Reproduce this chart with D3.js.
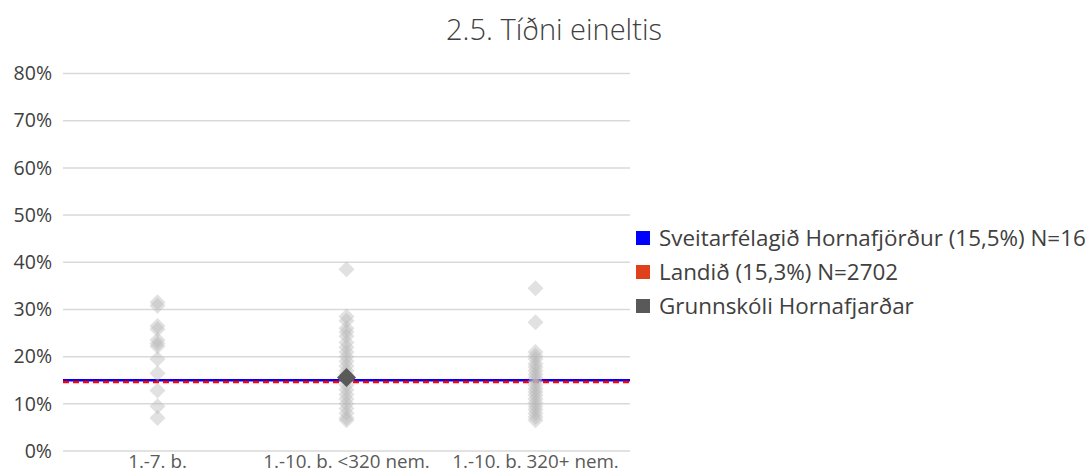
<!DOCTYPE html>
<html><head><meta charset="utf-8">
<script src="https://cdn.jsdelivr.net/npm/d3@7"></script>
<style>body{margin:0;background:#fff;font-family:"Open Sans",sans-serif;}</style>
</head><body><svg id="c" width="1089" height="475"></svg>
<script>
const categories = ["1.-7. b.", "1.-10. b. <320 nem.", "1.-10. b. 320+ nem."];
const yTicks = [0, 10, 20, 30, 40, 50, 60, 70, 80];
const schoolsCat1 = [31.5, 30.8, 26.5, 25.8, 23.5, 22.8, 22.2, 19.5, 16.5, 12.8, 9.5, 7.0];
const schoolsCat2 = [38.5, 28.5, 27.6, 26.0, 25.2, 24.3, 23.0, 22.0, 21.0, 20.0, 19.0, 18.0, 17.0, 16.2, 15.0, 14.0, 13.0, 12.0, 11.0, 10.0, 9.0, 8.0, 7.0, 6.5];
const schoolsCat3 = [34.5, 27.3, 21.0, 20.2, 19.5, 18.5, 17.8, 17.0, 16.2, 15.5, 14.8, 14.0, 13.2, 12.5, 11.8, 11.0, 10.2, 9.5, 8.8, 8.0, 7.2, 6.5];
const highlightCategory = "1.-10. b. <320 nem.";
const highlightValue = 15.6;
const municipalityValue = 15.0;
const nationalValue = 14.6;
const legendLabels = ["Sveitarfélagið Hornafjörður (15,5%) N=16", "Landið (15,3%) N=2702", "Grunnskóli Hornafjarðar"];
const legendColors = ["#0000ff", "#e0401a", "#595959"];
const title = "2.5. Tíðni eineltis";

const FONT = "'Open Sans',sans-serif";
const svg = d3.select("#c");
const mLeft = 63, mRight = 630, mTop = 73.5, mBottom = 451;
const x = d3.scaleBand().domain(categories).range([mLeft, mRight]);
const y = d3.scaleLinear().domain([0, 80]).range([mBottom, mTop]);

svg.append("text").attr("x", 554).attr("y", 40).attr("text-anchor", "middle")
  .attr("font-family", FONT).attr("font-size", 29).attr("font-weight", 300).attr("fill", "#404040").text(title);

// grid
svg.append("g").selectAll("line").data(yTicks).join("line")
  .attr("x1", mLeft).attr("x2", mRight).attr("y1", d => y(d)).attr("y2", d => y(d))
  .attr("stroke", "#d9d9d9").attr("stroke-width", 1.5);

// y axis
const ya = svg.append("g").attr("transform", `translate(${mLeft},0)`)
  .call(d3.axisLeft(y).tickValues(yTicks).tickFormat(d => d + "%").tickSize(0).tickPadding(11));
ya.select(".domain").remove();
ya.selectAll("text").attr("font-size", 19.5).attr("font-weight", 400).attr("fill", "#404040").attr("font-family", FONT);

// x axis
const xa = svg.append("g").attr("transform", `translate(0,${mBottom})`)
  .call(d3.axisBottom(x).tickSize(0).tickPadding(4));
xa.select(".domain").remove();
xa.selectAll("text").attr("font-size", 18.8).attr("font-weight", 400).attr("fill", "#595959").attr("font-family", FONT);

// reference lines
svg.append("line").attr("x1", mLeft).attr("x2", mRight).attr("y1", y(municipalityValue)).attr("y2", y(municipalityValue))
  .attr("stroke", "#0000ff").attr("stroke-width", 2.5);
svg.append("line").attr("x1", mLeft).attr("x2", mRight).attr("y1", y(nationalValue)).attr("y2", y(nationalValue))
  .attr("stroke", "#ff0000").attr("stroke-width", 2.5).attr("stroke-dasharray", "6,4");

// points
const pts = [];
[schoolsCat1, schoolsCat2, schoolsCat3].forEach((arr, i) => arr.forEach(v => pts.push({c: categories[i], v})));
const diamond = r => `M0,${-r}L${r},0L0,${r}L${-r},0Z`;
svg.append("g").selectAll("path").data(pts).join("path")
  .attr("d", diamond(8))
  .attr("transform", d => `translate(${x(d.c) + x.bandwidth() / 2},${y(d.v)})`)
  .attr("fill", "#b8b8b8").attr("fill-opacity", 0.42);
svg.append("path").attr("d", diamond(9.5))
  .attr("transform", `translate(${x(highlightCategory) + x.bandwidth() / 2},${y(highlightValue)})`)
  .attr("fill", "#595959");

// legend
const lg = svg.append("g").selectAll("g").data(legendLabels).join("g")
  .attr("transform", (d, i) => `translate(636,${238 + i * 34})`);
lg.append("rect").attr("x", 0).attr("y", -7).attr("width", 14).attr("height", 14).attr("fill", (d, i) => legendColors[i]);
lg.append("text").attr("x", 23).attr("y", 0).attr("dy", "0.35em").attr("font-family", FONT).attr("font-size", 22.4)
  .attr("font-weight", 400).attr("fill", "#404040").text(d => d);
</script></body></html>
